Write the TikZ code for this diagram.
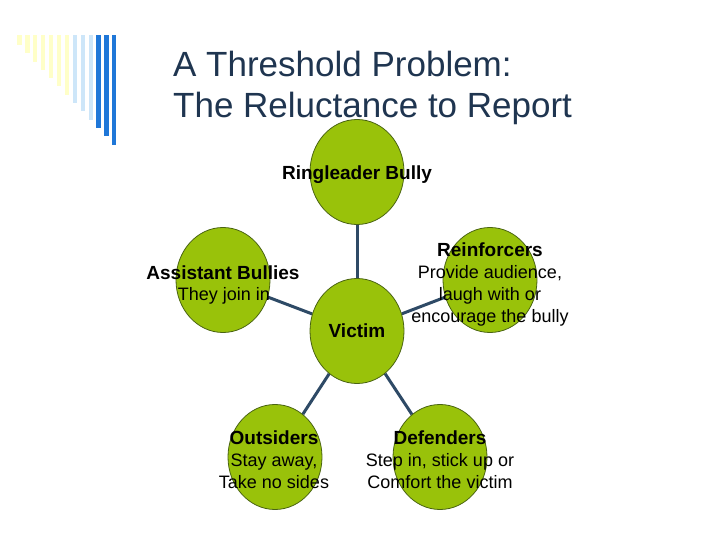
\documentclass[tikz,border=0pt]{standalone}
\usepackage{fontspec}
\setmainfont{Liberation Sans}
\usetikzlibrary{shapes.geometric,backgrounds}
\definecolor{titlecol}{HTML}{1F3550}
\definecolor{circfill}{HTML}{99C20A}
\definecolor{circline}{HTML}{4A6412}
\definecolor{linkcol}{HTML}{2E4A66}
\definecolor{paleyel}{HTML}{FFFFC8}
\definecolor{paleblue}{HTML}{CDE6F9}
\definecolor{barblue}{HTML}{1F77D8}
\tikzset{
  bubble/.style={ellipse, draw=circline, line width=0.8pt, fill=circfill,
    minimum width=94pt, minimum height=105pt, inner sep=0pt},
  link/.style={draw=linkcol, line width=3pt},
  head/.style={anchor=base, inner sep=0pt, font=\fontsize{19}{22}\selectfont\bfseries},
  body/.style={anchor=base, inner sep=0pt, font=\fontsize{18}{22}\selectfont},
  ttl/.style={anchor=base west, inner sep=0pt, text=titlecol, font=\fontsize{35}{41}\selectfont},
}
\begin{document}
\begin{tikzpicture}[x=1pt,y=-1pt]
\useasboundingbox (0,0) rectangle (720,540);
% decorative bars
\foreach \i/\c in {0/paleyel,1/paleyel,2/paleyel,3/paleyel,4/paleyel,5/paleyel,6/paleyel,7/paleblue,8/paleblue,9/paleblue,10/barblue,11/barblue,12/barblue}{
  \fill[\c] ({19.5+7.9*\i-2.1},35) rectangle ({19.5+7.9*\i+2.1},{45+8.3*\i});
}
% title
\node[ttl] (t1) at (173,77) {A Threshold Problem:};
\node[ttl] (t2) at (173,118) {The Reluctance to Report};
% circles
\node[bubble] (ring) at (357,172) {};
\node[bubble] (vic) at (357,331) {};
\node[bubble] (asst) at (223,280) {};
\node[bubble] (rein) at (490,280) {};
\node[bubble] (outs) at (275,457) {};
\node[bubble] (defs) at (440,457) {};
% connectors
\begin{scope}[on background layer]
\path[link] (ring) -- (vic);
\path[link] (asst) -- (vic);
\path[link] (rein) -- (vic);
\path[link] (outs) -- (vic);
\path[link] (defs) -- (vic);
\end{scope}
% texts
\node[head] (ringT) at (357,179.5) {Ringleader Bully};
\node[head] (asstT) at (223,279) {Assistant Bullies};
\node[body] (asstB) at (224,300) {They join in};
\node[head] (reinT) at (490,256) {Reinforcers};
\node[body] (reinB1) at (490,278) {Provide audience,};
\node[body] (reinB2) at (490,300) {laugh with or};
\node[body] (reinB3) at (490,322) {encourage the bully};
\node[head] (vicT) at (357,337) {Victim};
\node[head] (outsT) at (274,444) {Outsiders};
\node[body] (outsB1) at (274,466) {Stay away,};
\node[body] (outsB2) at (274,488) {Take no sides};
\node[head] (defsT) at (440,444) {Defenders};
\node[body] (defsB1) at (440,466) {Step in, stick up or};
\node[body] (defsB2) at (440,488) {Comfort the victim};
\end{tikzpicture}
\end{document}
